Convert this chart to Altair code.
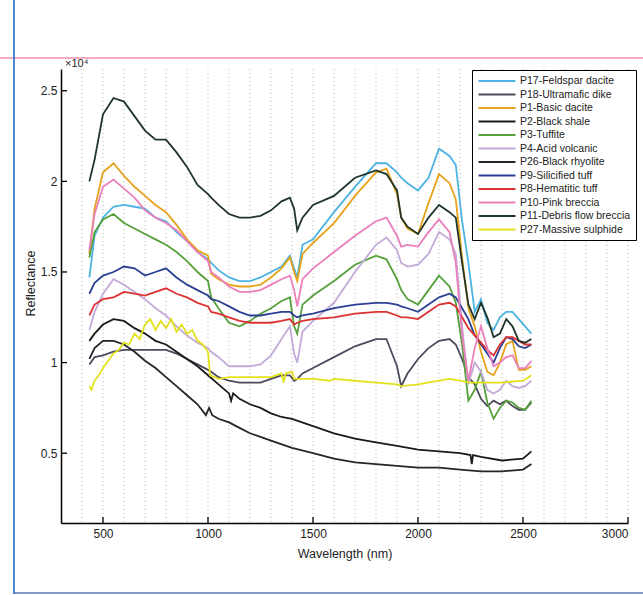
import altair as alt
import pandas as pd

# ---------------- data (reflectance in units of 10^4) ----------------
WL = [435, 460, 500, 550, 600, 650, 700, 750, 800, 850, 900, 950, 1000, 1015, 1050, 1100,
      1150, 1200, 1250, 1300, 1350, 1390, 1410, 1425, 1450, 1500, 1600, 1700, 1800, 1850,
      1900, 1920, 1950, 2000, 2050, 2100, 2150, 2180, 2210, 2240, 2270, 2300, 2330, 2360,
      2390, 2420, 2450, 2480, 2510, 2540]

P17 = [1.47, 1.70, 1.80, 1.86, 1.87, 1.86, 1.85, 1.80, 1.78, 1.72, 1.67, 1.61, 1.57, 1.55, 1.51, 1.47,
       1.45, 1.45, 1.47, 1.50, 1.53, 1.59, 1.52, 1.47, 1.65, 1.68, 1.83, 1.97, 2.10, 2.10,
       2.05, 2.02, 1.99, 1.95, 2.02, 2.18, 2.14, 2.09, 1.78, 1.55, 1.28, 1.35, 1.22, 1.18,
       1.25, 1.28, 1.28, 1.24, 1.20, 1.16]
P18 = [0.99, 1.03, 1.04, 1.06, 1.07, 1.07, 1.07, 1.07, 1.07, 1.05, 1.02, 0.99, 0.96, 0.95, 0.92, 0.90,
       0.89, 0.89, 0.89, 0.91, 0.93, 0.93, 0.90, 0.91, 0.94, 0.97, 1.03, 1.09, 1.13, 1.13,
       0.98, 0.87, 0.94, 1.02, 1.08, 1.12, 1.13, 1.10, 1.02, 0.92, 0.88, 0.80, 0.76, 0.79,
       0.77, 0.79, 0.76, 0.74, 0.74, 0.78]
P1 = [1.60, 1.85, 2.05, 2.10, 2.03, 1.97, 1.92, 1.87, 1.83, 1.76, 1.68, 1.62, 1.59, 1.49, 1.46, 1.43,
      1.42, 1.42, 1.43, 1.47, 1.52, 1.58, 1.50, 1.45, 1.60, 1.66, 1.77, 1.92, 2.05, 2.07,
      1.93, 1.80, 1.74, 1.71, 1.88, 2.04, 1.99, 1.90, 1.58, 1.30, 1.20, 1.06, 0.95, 0.93,
      1.00, 1.10, 1.12, 0.96, 0.96, 0.98]
P3 = [1.58, 1.72, 1.79, 1.82, 1.77, 1.74, 1.71, 1.68, 1.65, 1.61, 1.56, 1.50, 1.45, 1.36, 1.30, 1.22,
      1.20, 1.23, 1.27, 1.30, 1.34, 1.36, 1.20, 1.16, 1.32, 1.37, 1.45, 1.54, 1.59, 1.57,
      1.46, 1.40, 1.35, 1.32, 1.40, 1.48, 1.42, 1.33, 1.10, 0.79, 0.85, 0.95, 0.78, 0.69,
      0.75, 0.79, 0.78, 0.75, 0.74, 0.79]
P4 = [1.18, 1.28, 1.38, 1.46, 1.43, 1.39, 1.35, 1.30, 1.26, 1.20, 1.15, 1.11, 1.08, 1.06, 1.03, 0.98,
      0.98, 0.98, 0.99, 1.04, 1.13, 1.20, 1.05, 1.00, 1.17, 1.23, 1.33, 1.50, 1.65, 1.69,
      1.62, 1.55, 1.53, 1.54, 1.60, 1.72, 1.68, 1.60, 1.20, 0.88, 1.00, 0.95, 0.85, 0.83,
      0.85, 0.90, 0.87, 0.86, 0.87, 0.90]
P9 = [1.38, 1.44, 1.48, 1.50, 1.53, 1.52, 1.48, 1.50, 1.52, 1.47, 1.43, 1.40, 1.37, 1.35, 1.34, 1.31,
      1.28, 1.26, 1.26, 1.27, 1.28, 1.28, 1.26, 1.25, 1.26, 1.27, 1.30, 1.32, 1.33, 1.33,
      1.32, 1.31, 1.30, 1.28, 1.32, 1.36, 1.38, 1.36, 1.30, 1.24, 1.15, 1.10, 1.05, 1.00,
      1.08, 1.14, 1.13, 1.09, 1.08, 1.10]
P8 = [1.26, 1.32, 1.35, 1.36, 1.39, 1.38, 1.37, 1.39, 1.41, 1.38, 1.36, 1.33, 1.31, 1.28, 1.27, 1.25,
      1.23, 1.22, 1.22, 1.22, 1.23, 1.24, 1.21, 1.22, 1.23, 1.24, 1.25, 1.27, 1.28, 1.28,
      1.26, 1.25, 1.25, 1.24, 1.28, 1.32, 1.33, 1.31, 1.25, 1.19, 1.15, 1.11, 1.07, 1.04,
      1.10, 1.14, 1.14, 1.12, 1.10, 1.10]
P10 = [1.62, 1.82, 1.97, 2.01, 1.96, 1.91, 1.84, 1.80, 1.77, 1.73, 1.67, 1.61, 1.56, 1.50, 1.47, 1.42,
       1.39, 1.39, 1.40, 1.43, 1.46, 1.48, 1.40, 1.31, 1.46, 1.52, 1.61, 1.70, 1.78, 1.80,
       1.70, 1.64, 1.65, 1.64, 1.72, 1.79, 1.72, 1.55, 1.15, 0.90, 1.08, 1.20, 1.08, 0.98,
       1.00, 1.03, 1.04, 0.97, 0.97, 1.01]
P11 = [2.00, 2.12, 2.37, 2.46, 2.44, 2.36, 2.28, 2.23, 2.23, 2.16, 2.08, 1.98, 1.93, 1.91, 1.87, 1.82,
       1.80, 1.80, 1.81, 1.84, 1.89, 1.91, 1.85, 1.73, 1.80, 1.87, 1.92, 2.02, 2.06, 2.04,
       1.95, 1.80, 1.75, 1.71, 1.80, 1.87, 1.83, 1.80, 1.55, 1.32, 1.24, 1.33, 1.25, 1.14,
       1.16, 1.24, 1.20, 1.12, 1.11, 1.13]

WL_P2 = [435, 460, 500, 550, 600, 650, 700, 750, 800, 850, 900, 950, 1000, 1050, 1100, 1110,
         1120, 1150, 1200, 1250, 1300, 1350, 1400, 1500, 1600, 1700, 1800, 1900, 2000, 2100,
         2200, 2250, 2256, 2262, 2300, 2400, 2500, 2540]
P2 = [1.12, 1.16, 1.21, 1.24, 1.23, 1.19, 1.16, 1.12, 1.10, 1.06, 1.02, 0.98, 0.93, 0.88, 0.83, 0.79,
      0.83, 0.80, 0.77, 0.75, 0.72, 0.70, 0.69, 0.65, 0.61, 0.58, 0.56, 0.54, 0.52, 0.51,
      0.50, 0.49, 0.44, 0.49, 0.48, 0.46, 0.47, 0.51]

WL_P26 = [435, 460, 500, 550, 600, 650, 700, 750, 800, 850, 900, 950, 990, 1005, 1020, 1050,
          1100, 1150, 1200, 1250, 1300, 1400, 1500, 1600, 1700, 1800, 1900, 2000, 2100, 2200,
          2300, 2400, 2500, 2540]
P26 = [1.02, 1.08, 1.12, 1.12, 1.10, 1.06, 1.01, 0.97, 0.92, 0.87, 0.82, 0.77, 0.71, 0.75, 0.71, 0.69,
       0.67, 0.64, 0.61, 0.59, 0.57, 0.53, 0.50, 0.47, 0.45, 0.44, 0.43, 0.42, 0.42, 0.41,
       0.40, 0.40, 0.41, 0.44]

WL_P27 = [435, 445, 460, 480, 500, 525, 550, 575, 600, 625, 650, 675, 700, 725, 750, 775, 800,
          825, 850, 875, 900, 925, 950, 975, 1000, 1010, 1050, 1100, 1200, 1300, 1350, 1360,
          1370, 1400, 1410, 1430, 1500, 1580, 1600, 1700, 1800, 1900, 1920, 2000, 2100, 2150,
          2200, 2250, 2300, 2400, 2500, 2540]
P27 = [0.87, 0.85, 0.90, 0.93, 0.97, 1.01, 1.05, 1.07, 1.11, 1.10, 1.16, 1.13, 1.21, 1.24, 1.18, 1.23, 1.19,
       1.24, 1.17, 1.21, 1.16, 1.18, 1.12, 1.10, 1.06, 0.93, 0.91, 0.92, 0.92, 0.92, 0.94, 0.89,
       0.94, 0.95, 0.91, 0.91, 0.91, 0.90, 0.91, 0.90, 0.89, 0.88, 0.87, 0.88, 0.90, 0.91,
       0.90, 0.89, 0.89, 0.89, 0.90, 0.93]

NAMES = ["P17-Feldspar dacite", "P18-Ultramafic dike", "P1-Basic dacite", "P2-Black shale",
         "P3-Tuffite", "P4-Acid volcanic", "P26-Black rhyolite", "P9-Silicified tuff",
         "P8-Hematitic tuff", "P10-Pink breccia", "P11-Debris flow breccia", "P27-Massive sulphide"]
COLORS = ["#4db3e2", "#4c4a5c", "#e8a31c", "#1a1a1a", "#55a03a", "#c3aad8", "#262626",
          "#2c3f92", "#dc3232", "#ea7fbb", "#1f3527", "#e2e21e"]

SERIES = [(NAMES[0], WL, P17), (NAMES[1], WL, P18), (NAMES[2], WL, P1), (NAMES[3], WL_P2, P2),
          (NAMES[4], WL, P3), (NAMES[5], WL, P4), (NAMES[6], WL_P26, P26), (NAMES[7], WL, P9),
          (NAMES[8], WL, P8), (NAMES[9], WL, P10), (NAMES[10], WL, P11), (NAMES[11], WL_P27, P27)]

X_TICKS = [500, 1000, 1500, 2000, 2500, 3000]
Y_TICKS = [0.5, 1.0, 1.5, 2.0, 2.5]
GRID_X = list(range(400, 3001, 100))

rows = []
for name, wl, vals in SERIES:
    for w, v in zip(wl, vals):
        rows.append({"series": name, "wl": w, "r": v})
df = pd.DataFrame(rows)

W, H = 567, 454
FONT = "Liberation Sans"
xs = alt.Scale(domain=[300, 3000], nice=False, zero=False)
ys = alt.Scale(domain=[0.115, 2.62], nice=False, zero=False)

x_axis = alt.Axis(values=X_TICKS, format="d", ticks=False, grid=False,
                  domainColor="black", domainWidth=1.5, labelFont=FONT,
                  labelFontSize=12, labelColor="#222", labelPadding=5,
                  title="Wavelength (nm)", titleFont=FONT, titleFontSize=12.5,
                  titleFontWeight="normal", titleColor="#222", titlePadding=8)
y_axis = alt.Axis(values=Y_TICKS, format=".2~f", ticks=False, grid=False,
                  domainColor="black", domainWidth=1.5, labelFont=FONT,
                  labelFontSize=12, labelColor="#222", labelPadding=4,
                  title="Reflectance", titleFont=FONT, titleFontSize=12.5,
                  titleFontWeight="normal", titleColor="#222",
                  titleX=-31, titleY=214, titleBaseline="middle")

grid = alt.Chart(pd.DataFrame({"wl": GRID_X})).mark_rule(
    color="#b5b5b5", strokeDash=[1, 3], strokeWidth=1
).encode(x=alt.X("wl:Q", scale=xs, axis=x_axis), y=alt.value(0), y2=alt.value(H))

lines = alt.Chart(df).mark_line(strokeWidth=1.8, clip=True).encode(
    x=alt.X("wl:Q", scale=xs, axis=x_axis),
    y=alt.Y("r:Q", scale=ys, axis=y_axis),
    color=alt.Color("series:N", sort=NAMES, title=None,
                    scale=alt.Scale(domain=NAMES, range=COLORS),
                    legend=alt.Legend(orient="none", legendX=411, legendY=1,
                                      strokeColor="black", fillColor="white",
                                      padding=5, symbolType="M-4,0H4", symbolSize=85,
                                      symbolOffset=14, symbolStrokeWidth=2,
                                      labelFont=FONT, labelFontSize=10.5, labelColor="#222",
                                      rowPadding=1.5, labelOffset=17, cornerRadius=0)),
)

xt = alt.Chart(pd.DataFrame({"wl": X_TICKS})).mark_rule(color="black", strokeWidth=1.3).encode(
    x=alt.X("wl:Q", scale=xs, axis=x_axis), y=alt.value(H), y2=alt.value(H - 6))
yt = alt.Chart(pd.DataFrame({"r": Y_TICKS})).mark_rule(color="black", strokeWidth=1.3).encode(
    y=alt.Y("r:Q", scale=ys, axis=y_axis), x=alt.value(0), x2=alt.value(6))

one = pd.DataFrame({"k": [0]})
exp = alt.Chart(one).mark_text(align="left", baseline="alphabetic", font=FONT,
                               fontSize=11, color="#222").encode(
    x=alt.value(4), y=alt.value(-2), text=alt.value("×10⁴"))

pink = alt.Chart(one).mark_rule(color="#ef8fb3", strokeWidth=1.5).encode(
    x=alt.value(-61), x2=alt.value(W + 15), y=alt.value(-11))
blue = alt.Chart(one).mark_rule(color="#4f86d4", strokeWidth=2).encode(
    x=alt.value(-47), y=alt.value(-69), y2=alt.value(H + 71))
bottom = alt.Chart(one).mark_rule(color="#5a78b8", strokeWidth=1.5).encode(
    x=alt.value(-47), x2=alt.value(W + 15), y=alt.value(H + 70))

chart = alt.layer(grid, lines, xt, yt, exp, pink, blue, bottom).properties(
    width=W, height=H, autosize="none",
    padding={"left": 61, "top": 69, "right": 15, "bottom": 72},
    background="white",
).configure_view(strokeWidth=0)

chart.save("out.html", embed_options={"renderer": "svg", "actions": False})
